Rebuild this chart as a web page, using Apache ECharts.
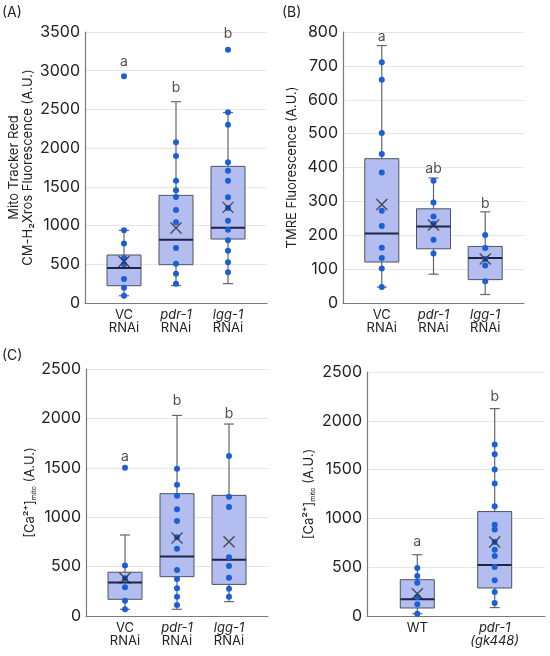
<!DOCTYPE html>
<html>
<head>
<meta charset="utf-8">
<script src="https://cdn.jsdelivr.net/npm/echarts@6/dist/echarts.min.js"></script>
<style>
  html, body { margin: 0; padding: 0; background: #fff; }
  #chart { width: 550px; height: 656px; }
</style>
</head>
<body>
<div id="chart"></div>
<script>
// panel A: Mito Tracker Red
const catA = ['VC\nRNAi', '{i|pdr-1}\nRNAi', '{i|lgg-1}\nRNAi']
const boxA = [[94, 223, 452, 620, 938], [225, 495, 818, 1390, 2600], [250, 826, 973, 1765, 2460]]
const meanA = [537, 969, 1235]
const ptsA = [
  [2930, 938, 770, 581, 500, 310, 198, 94],
  [2075, 1898, 1580, 1455, 1369, 1201, 1042, 710, 508, 379, 250],
  [3270, 2462, 2303, 1817, 1709, 1580, 1365, 1227, 1063, 947, 809, 676, 525, 396]
]
const letA = ['a', 'b', 'b']
const letYA = [3120, 2780, 3480]

// panel B: TMRE
const catB = catA
const boxB = [[47, 121, 205, 426, 760], [85, 160, 226, 278, 369], [25, 69, 133, 167, 269]]
const meanB = [291, 230, 130]
const ptsB = [
  [711, 659, 502, 440, 385, 272, 227, 163, 133, 102, 47],
  [361, 297, 255, 234, 187, 146],
  [201, 162, 130, 111, 64]
]
const letB = ['a', 'ab', 'b']
const letYB = [785, 396, 292]

// panel C left: Ca mito, RNAi
const catC = catA
const boxC = [[68, 169, 338, 443, 820], [68, 398, 601, 1238, 2030], [145, 320, 570, 1221, 1943]]
const meanC = [382, 790, 752]
const ptsC = [
  [1500, 510, 382, 290, 155, 68],
  [1491, 1329, 1218, 1080, 962, 796, 681, 466, 374, 280, 196, 111],
  [1619, 1208, 1103, 594, 506, 388, 277, 196]
]
const letC = ['a', 'b', 'b']
const letYC = [1616, 2179, 2045]

// panel C right: Ca mito, mutant
const catD = ['WT', '{i|pdr-1}\n{i|(gk448)}']
const boxD = [[24, 82, 171, 372, 628], [86, 287, 523, 1070, 2125]]
const meanD = [229, 758]
const ptsD = [
  [492, 410, 341, 195, 120, 24],
  [1756, 1657, 1500, 1357, 1124, 936, 885, 758, 680, 615, 502, 366, 246, 133]
]
const letD = ['a', 'b']
const letYD = [758, 2251]

const FONT = 'Inter, "Noto Sans", sans-serif'
const DOT = '#1a5fd8'
const chart = echarts.init(document.getElementById('chart'))

function xAxisFor(i, cats, min, max) {
  return {
    gridIndex: i, type: 'value', min: min, max: max,
    splitLine: { show: false },
    axisTick: { show: false },
    axisLine: { lineStyle: { color: '#7a7a7a', width: 1.2 } },
    axisLabel: {
      customValues: cats.map((c, k) => k),
      formatter: v => cats[Math.round(v)] || '',
      color: '#222', fontFamily: FONT, fontSize: 13, lineHeight: 13, margin: 6,
      rich: { i: { fontStyle: 'italic', fontFamily: FONT, fontSize: 13, lineHeight: 13, color: '#222' } }
    }
  }
}

function yAxisFor(i, max, step, name, gap) {
  return {
    gridIndex: i, type: 'value', min: 0, max: max, interval: step,
    name: name, nameLocation: 'middle', nameGap: gap,
    nameTextStyle: {
      color: '#222', fontFamily: FONT, fontSize: 13, lineHeight: 14,
      rich: { sub: { fontSize: 7, fontFamily: FONT, color: '#222', verticalAlign: 'bottom', padding: [6, 0, 0, 0] } }
    },
    axisTick: { show: false },
    axisLine: { show: true, onZero: false, lineStyle: { color: '#7a7a7a', width: 1.2 } },
    axisLabel: { color: '#222', fontFamily: FONT, fontSize: 16, margin: 5, formatter: v => String(v) },
    splitLine: { lineStyle: { color: '#e6e6e6', width: 1 } }
  }
}

function boxRender(params, api) {
  const x = api.value(0)
  const c = v => api.coord([x, v])
  const lo = c(api.value(1)), q1 = c(api.value(2)), md = c(api.value(3))
  const q3 = c(api.value(4)), hi = c(api.value(5))
  const h = 17, cap = 5
  const wh = { stroke: '#666', lineWidth: 1.2 }
  return {
    type: 'group',
    children: [
      { type: 'line', shape: { x1: lo[0], y1: q1[1], x2: lo[0], y2: lo[1] }, style: wh },
      { type: 'line', shape: { x1: hi[0], y1: q3[1], x2: hi[0], y2: hi[1] }, style: wh },
      { type: 'line', shape: { x1: lo[0] - cap, y1: lo[1], x2: lo[0] + cap, y2: lo[1] }, style: wh },
      { type: 'line', shape: { x1: hi[0] - cap, y1: hi[1], x2: hi[0] + cap, y2: hi[1] }, style: wh },
      { type: 'rect', shape: { x: q3[0] - h, y: q3[1], width: 2 * h, height: q1[1] - q3[1] },
        style: { fill: '#b3bdf0', stroke: '#4d5260', lineWidth: 1 } },
      { type: 'line', shape: { x1: md[0] - h, y1: md[1], x2: md[0] + h, y2: md[1] },
        style: { stroke: '#1c2541', lineWidth: 2 } }
    ]
  }
}

function panelSeries(i, boxes, means, pts, lets, letY) {
  return [
    {
      type: 'custom', xAxisIndex: i, yAxisIndex: i, renderItem: boxRender,
      encode: { x: 0, y: [1, 2, 3, 4, 5] },
      data: boxes.map((b, k) => [k].concat(b)), z: 2
    },
    {
      type: 'scatter', xAxisIndex: i, yAxisIndex: i, symbolSize: 6,
      itemStyle: { color: DOT, opacity: 1 },
      data: pts.flatMap((arr, k) => arr.map(v => [k, v])), z: 3
    },
    {
      type: 'scatter', xAxisIndex: i, yAxisIndex: i,
      symbol: 'path://M0,0L10,10M10,0L0,10', symbolSize: 11,
      itemStyle: { color: 'none', borderColor: '#2a2a2a', borderWidth: 1.4 },
      data: means.map((v, k) => [k, v]), z: 4
    },
    {
      type: 'scatter', xAxisIndex: i, yAxisIndex: i, symbolSize: 0,
      label: { show: true, position: 'inside', formatter: p => p.data[2],
        color: '#222', fontFamily: FONT, fontSize: 14 },
      data: lets.map((t, k) => [k, letY[k], t]), z: 5
    }
  ]
}

const option = {
  animation: false,
  backgroundColor: '#fff',
  grid: [
    { left: 85, top: 32, width: 182, height: 271 },
    { left: 343, top: 32, width: 181, height: 271 },
    { left: 86, top: 369, width: 182, height: 247 },
    { left: 367, top: 372, width: 178, height: 244 }
  ],
  xAxis: [
    xAxisFor(0, catA, -0.75, 2.75),
    xAxisFor(1, catB, -0.75, 2.75),
    xAxisFor(2, catC, -0.75, 2.75),
    xAxisFor(3, catD, -0.65, 1.65)
  ],
  yAxis: [
    yAxisFor(0, 3500, 500, 'Mito Tracker Red\nCM-H\u2082Xros Fluorescence (A.U.)', 50),
    yAxisFor(1, 800, 100, 'TMRE Fluorescence (A.U.)', 44),
    yAxisFor(2, 2500, 500, '[Ca\u00b2\u207a]{sub|mito} (A.U.)', 47),
    yAxisFor(3, 2500, 500, '[Ca\u00b2\u207a]{sub|mito} (A.U.)', 51)
  ],
  graphic: [
    { type: 'text', left: 2, top: 6, style: { text: '(A)', font: '14px ' + FONT, fill: '#222' } },
    { type: 'text', left: 282, top: 6, style: { text: '(B)', font: '14px ' + FONT, fill: '#222' } },
    { type: 'text', left: 2, top: 349, style: { text: '(C)', font: '14px ' + FONT, fill: '#222' } }
  ],
  series: [].concat(
    panelSeries(0, boxA, meanA, ptsA, letA, letYA),
    panelSeries(1, boxB, meanB, ptsB, letB, letYB),
    panelSeries(2, boxC, meanC, ptsC, letC, letYC),
    panelSeries(3, boxD, meanD, ptsD, letD, letYD)
  )
}

chart.setOption(option)
window.addEventListener('resize', () => chart.resize())
</script>
</body>
</html>
